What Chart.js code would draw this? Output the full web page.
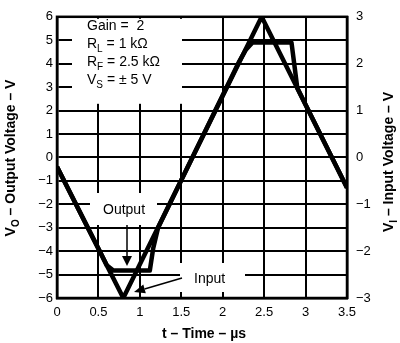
<!DOCTYPE html>
<html>
<head>
<meta charset="utf-8">
<script src="https://cdn.jsdelivr.net/npm/chart.js@4.4.1/dist/chart.umd.min.js"></script>
<style>
    html, body { margin: 0; padding: 0; background: #fff; }
    #wrap { width: 400px; height: 343px; }
</style>
</head>
<body>
<div id="wrap"><canvas id="chart" width="400" height="343"></canvas></div>
<script>
// time axis (µs) and the two voltage scales
const timeTicks = [0, 0.5, 1, 1.5, 2, 2.5, 3, 3.5];
const outputTicks = [-6, -5, -4, -3, -2, -1, 0, 1, 2, 3, 4, 5, 6];
const inputTicks = [-3, -2, -1, 0, 1, 2, 3];

// input triangle wave (V, right axis)
const inputTime = [0, 0.80, 2.47, 3.5];
const inputVolts = [-0.2, -3, 3, -0.65];

// output, clipped near ±4.9 V (left axis)
const outputTime = [0, 0.53, 0.60, 0.68, 1.12, 1.16, 1.22, 2.20, 2.28, 2.36, 2.83, 2.87, 2.90, 3.5];
const outputVolts = [-0.4, -4.1, -4.6, -4.83, -4.83, -3.9, -3.0, 4.1, 4.6, 4.9, 4.9, 3.8, 2.96, -1.3];

const family = '"Liberation Sans", Arial, Helvetica, sans-serif';
Chart.defaults.font.family = family;
Chart.defaults.color = '#000';

const minus = v => String(v).replace('-', '\u2212');

// text with subscripts: parts = [[text, isSub], ...]
function richWidth(ctx, parts, size, bold) {
    let w = 0;
    parts.forEach(([t, sub]) => {
        ctx.font = (bold ? 'bold ' : '') + (sub ? Math.round(size * 0.72) : size) + 'px ' + family;
        w += ctx.measureText(t).width;
    });
    return w;
}
function drawRich(ctx, parts, x, y, size, bold) {
    let cx = x;
    parts.forEach(([t, sub]) => {
        ctx.font = (bold ? 'bold ' : '') + (sub ? Math.round(size * 0.72) : size) + 'px ' + family;
        ctx.fillText(t, cx, sub ? y + size * 0.3 : y);
        cx += ctx.measureText(t).width;
    });
}
function drawVertical(ctx, parts, cx, cy, size) {
    ctx.save();
    ctx.translate(cx, cy);
    ctx.rotate(-Math.PI / 2);
    const w = richWidth(ctx, parts, size, true);
    drawRich(ctx, parts, -w / 2, 0, size, true);
    ctx.restore();
}
function arrow(ctx, x1, y1, x2, y2, len, half) {
    const a = Math.atan2(y2 - y1, x2 - x1);
    const bx = x2 - len * Math.cos(a), by = y2 - len * Math.sin(a);
    ctx.beginPath();
    ctx.moveTo(x1, y1);
    ctx.lineTo(bx, by);
    ctx.stroke();
    ctx.beginPath();
    ctx.moveTo(x2, y2);
    ctx.lineTo(bx + half * Math.sin(a), by - half * Math.cos(a));
    ctx.lineTo(bx - half * Math.sin(a), by + half * Math.cos(a));
    ctx.closePath();
    ctx.fill();
}

const decorations = {
    id: 'decorations',
    beforeDatasetsDraw(chart) {
        const ctx = chart.ctx;
        const a = chart.chartArea;
        ctx.save();
        ctx.fillStyle = '#fff';
        ctx.fillRect(72, a.top + 2, 110, 85);   // legend block
        ctx.fillRect(90, 193, 67, 32);           // "Output"
        ctx.fillRect(180, 263, 65, 29);          // "Input"
        ctx.strokeStyle = '#000';
        ctx.lineWidth = 2.5;
        ctx.strokeRect(a.left, a.top, a.right - a.left, a.bottom - a.top);
        ctx.restore();
    },
    afterDatasetsDraw(chart) {
        const ctx = chart.ctx;
        ctx.save();
        ctx.fillStyle = '#000';
        ctx.strokeStyle = '#000';
        ctx.textBaseline = 'alphabetic';
        ctx.textAlign = 'left';

        drawRich(ctx, [['Gain =  2', false]], 87, 30, 14, false);
        drawRich(ctx, [['R', false], ['L', true], [' = 1 k\u03A9', false]], 87, 48, 14, false);
        drawRich(ctx, [['R', false], ['F', true], [' = 2.5 k\u03A9', false]], 87, 66, 14, false);
        drawRich(ctx, [['V', false], ['S', true], [' = \u00B1 5 V', false]], 87, 84, 14, false);

        drawRich(ctx, [['Output', false]], 103, 214, 14, false);
        drawRich(ctx, [['Input', false]], 194, 283, 14, false);

        ctx.lineWidth = 1.5;
        arrow(ctx, 127, 225, 127, 266, 10, 5);
        arrow(ctx, 182, 278, 134, 292, 11, 4.5);

        // axis titles
        drawVertical(ctx, [['V', false], ['O', true], [' \u2013 Output Voltage \u2013 V', false]], 15, 158, 14);
        drawVertical(ctx, [['V', false], ['I', true], [' \u2013 Input Voltage \u2013 V', false]], 393, 162, 14);
        ctx.font = 'bold 14px ' + family;
        ctx.textAlign = 'center';
        ctx.fillText('t \u2013 Time \u2013 \u00B5s', 204, 338);
        ctx.restore();
    }
};

const ctx = document.getElementById('chart').getContext('2d');
new Chart(ctx, {
    type: 'line',
    data: {
        datasets: [{
            label: 'Output',
            data: outputTime.map((t, i) => ({ x: t, y: outputVolts[i] })),
            yAxisID: 'y',
            borderColor: '#000',
            borderWidth: 4.5,
            borderJoinStyle: 'round',
            pointRadius: 0,
            tension: 0,
            fill: false
        }, {
            label: 'Input',
            data: inputTime.map((t, i) => ({ x: t, y: inputVolts[i] })),
            yAxisID: 'y2',
            borderColor: '#000',
            borderWidth: 4.5,
            borderJoinStyle: 'miter',
            pointRadius: 0,
            tension: 0,
            fill: false
        }]
    },
    options: {
        responsive: false,
        animation: false,
        devicePixelRatio: 1,
        layout: { padding: { top: 10 } },
        plugins: { legend: { display: false }, tooltip: { enabled: false } },
        scales: {
            x: {
                type: 'linear',
                min: 0, max: 3.5,
                afterBuildTicks: s => { s.ticks = timeTicks.map(v => ({ value: v })); },
                afterFit: s => { s.height = 45; },
                ticks: { font: { size: 13 }, padding: 7, maxRotation: 0, callback: v => String(v) },
                grid: { color: '#000', lineWidth: 2, drawTicks: false },
                border: { color: '#000', width: 2.5 }
            },
            y: {
                position: 'left',
                min: -6, max: 6,
                afterBuildTicks: s => { s.ticks = outputTicks.map(v => ({ value: v })); },
                afterFit: s => { s.width = 57; },
                ticks: { font: { size: 13 }, padding: 4, callback: minus },
                grid: { color: '#000', lineWidth: 2, drawTicks: false },
                border: { color: '#000', width: 2.5 }
            },
            y2: {
                position: 'right',
                min: -3, max: 3,
                afterBuildTicks: s => { s.ticks = inputTicks.map(v => ({ value: v })); },
                afterFit: s => { s.width = 53; },
                ticks: { font: { size: 13 }, padding: 9, callback: minus },
                grid: { drawOnChartArea: false, drawTicks: false },
                border: { color: '#000', width: 2.5 }
            }
        }
    },
    plugins: [decorations]
});
</script>
</body>
</html>
